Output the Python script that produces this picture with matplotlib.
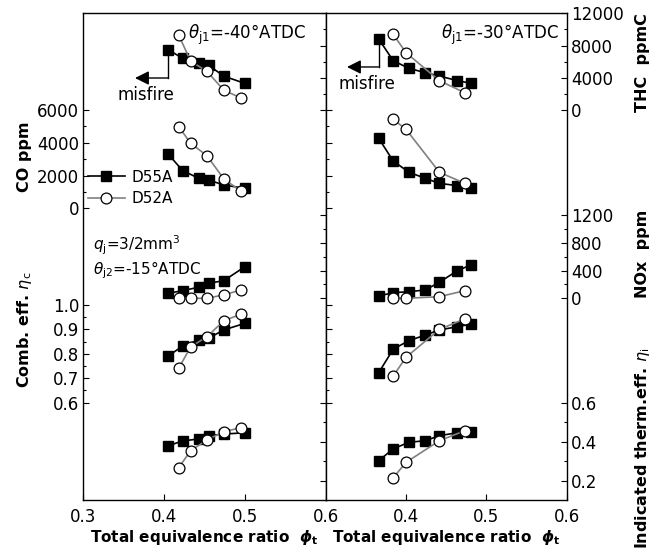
import matplotlib
matplotlib.use('Agg')
import matplotlib.pyplot as plt

plt.rcParams['font.family'] = ['DejaVu Sans']
plt.rcParams['mathtext.fontset'] = 'dejavusans'

# --- data ---
# left panel: theta_j1 = -40 deg ATDC
phi55_L = [0.405, 0.423, 0.443, 0.455, 0.474, 0.500]
phi52_L = [0.418, 0.433, 0.453, 0.474, 0.495]
thc55_L = [7500, 6400, 5850, 5550, 4200, 3300]
thc52_L = [9300, 6050, 4800, 2450, 1500]
co55_L = [3310, 2300, 1830, 1730, 1420, 1220]
co52_L = [4980, 3965, 3210, 1790, 1055]
nox55_L = [72, 110, 160, 215, 255, 455]
nox52_L = [0, 0, 0, 50, 120]
comb55_L = [0.791, 0.832, 0.857, 0.864, 0.898, 0.925]
comb52_L = [0.741, 0.829, 0.870, 0.936, 0.962]
therm55_L = [0.379, 0.404, 0.414, 0.431, 0.439, 0.446]
therm52_L = [0.267, 0.354, 0.409, 0.451, 0.472]

# right panel: theta_j1 = -30 deg ATDC
phi55_R = [0.366, 0.384, 0.4035, 0.424, 0.4415, 0.464, 0.481]
phi52_R = [0.384, 0.400, 0.4415, 0.473]
thc55_R = [8810, 6120, 5175, 4630, 4220, 3640, 3310]
thc52_R = [9390, 7110, 3640, 2150]
co55_R = [4270, 2890, 2200, 1830, 1525, 1380, 1260]
co52_R = [5430, 4820, 2200, 1525]
nox55_R = [33, 81, 95, 120, 231, 399, 481]
nox52_R = [0, 0, 23, 110]
comb55_R = [0.723, 0.819, 0.854, 0.877, 0.898, 0.911, 0.922]
comb52_R = [0.709, 0.786, 0.900, 0.943]
therm55_R = [0.303, 0.363, 0.397, 0.405, 0.431, 0.446, 0.451]
therm52_R = [0.215, 0.294, 0.405, 0.456]

# --- layout (pixels of a 658x550 image) ---
W, H = 658, 550
PX_TOP, PX_BOT = 13.3, 500.0


def px_lims(v0, p0, v1, p1):
    # y-limits so that value v0 sits at pixel row p0 and v1 at p1
    s = (p1 - p0) / (v1 - v0)
    return v0 + (PX_BOT - p0) / s, v0 + (PX_TOP - p0) / s


scales = {
    'co': dict(lim=px_lims(0, 208.3, 6000, 110.0), side='left',
               major=[0, 2000, 4000, 6000], minor=[1000, 3000, 5000], fmt='{:.0f}'),
    'comb': dict(lim=px_lims(0.6, 402.7, 1.0, 305.0), side='left',
                 major=[0.6, 0.7, 0.8, 0.9, 1.0], minor=[0.65, 0.75, 0.85, 0.95], fmt='{:.1f}'),
    'thc': dict(lim=px_lims(0, 110.0, 12000, 13.3), side='right',
                major=[0, 4000, 8000, 12000], minor=[2000, 6000, 10000], fmt='{:.0f}'),
    'nox': dict(lim=px_lims(0, 298.3, 1200, 215.0), side='right',
                major=[0, 400, 800, 1200], minor=[200, 600, 1000], fmt='{:.0f}'),
    'therm': dict(lim=px_lims(0.2, 480.7, 0.6, 402.7), side='right',
                  major=[0.2, 0.4, 0.6], minor=[0.3, 0.5], fmt='{:.1f}'),
}

panels = [
    dict(x=(83.3, 325.7), xticks=[0.3, 0.4, 0.5, 0.6], outer='left',
         phi55=phi55_L, phi52=phi52_L,
         series={'co': (co55_L, co52_L), 'comb': (comb55_L, comb52_L),
                 'thc': (thc55_L, thc52_L), 'nox': (nox55_L, nox52_L),
                 'therm': (therm55_L, therm52_L)},
         title=r'$\theta_{\rm j1}$=-40°ATDC', title_xy=(188, 34.5), title_ha='left',
         misfire=dict(yline=3970, xend=0.364, text=(0.3776, 1860))),
    dict(x=(325.7, 566.7), xticks=[0.4, 0.5, 0.6], outer='right',
         phi55=phi55_R, phi52=phi52_R,
         series={'co': (co55_R, co52_R), 'comb': (comb55_R, comb52_R),
                 'thc': (thc55_R, thc52_R), 'nox': (nox55_R, nox52_R),
                 'therm': (therm55_R, therm52_R)},
         title=r'$\theta_{\rm j1}$=-30°ATDC', title_xy=(559, 35), title_ha='right',
         misfire=dict(yline=5340, xend=0.3265, text=(0.3514, 3230))),
]

fig = plt.figure(figsize=(W / 100, H / 100), dpi=100)
TICK_FS = 12
handles = None

for p in panels:
    x0, x1 = p['x']
    rect = [x0 / W, 1 - PX_BOT / H, (x1 - x0) / W, (PX_BOT - PX_TOP) / H]
    base = fig.add_axes(rect)
    base.set_xlim(0.3, 0.6)
    base.set_xticks(p['xticks'], labels=[f'{t:.1f}' for t in p['xticks']])
    base.set_yticks([])
    base.tick_params(axis='x', direction='in', length=4, width=0.8, pad=6,
                     labelsize=TICK_FS)
    for sp in base.spines.values():
        sp.set_linewidth(1.0)
    base.set_xlabel(r'Total equivalence ratio  $\mathbfit{\phi}_\mathbf{t}$', fontsize=11,
                    fontweight='bold', labelpad=1)

    axs = {}
    for key, sc in scales.items():
        a = fig.add_axes(rect, sharex=base)
        a.patch.set_visible(False)
        for sp in a.spines.values():
            sp.set_visible(False)
        a.xaxis.set_visible(False)
        a.set_ylim(*sc['lim'])
        a.yaxis.set_ticks_position(sc['side'])
        a.set_yticks(sc['major'], labels=[sc['fmt'].format(v) for v in sc['major']])
        a.set_yticks(sc['minor'], minor=True)
        show = sc['side'] == p['outer']
        a.tick_params(axis='y', which='major', direction='in', length=4, width=0.8,
                      labelsize=TICK_FS, pad=3,
                      labelleft=show and sc['side'] == 'left',
                      labelright=show and sc['side'] == 'right')
        a.tick_params(axis='y', which='minor', direction='in', length=2, width=0.8)
        axs[key] = a

    for key, (y55, y52) in p['series'].items():
        a = axs[key]
        l55, = a.plot(p['phi55'], y55, '-s', color='k', mfc='k', mec='k', ms=7.2,
                      lw=1.2, zorder=3)
        l52, = a.plot(p['phi52'], y52, '-o', color='0.5', mfc='w', mec='k', ms=7.8,
                      mew=0.9, lw=1.2, zorder=4)
        if handles is None:
            handles = [l55, l52]

    # misfire marker off the first D55A point
    m = p['misfire']
    at = axs['thc']
    at.plot([p['phi55'][0]] * 2, [p['series']['thc'][0][0], m['yline']], color='k', lw=1.0)
    at.annotate('', xy=(m['xend'], m['yline']), xytext=(p['phi55'][0], m['yline']),
                arrowprops=dict(arrowstyle='-|>,head_length=0.6,head_width=0.3',
                                color='k', lw=1.0, mutation_scale=14,
                                shrinkA=0, shrinkB=0))
    at.text(m['text'][0], m['text'][1], 'misfire', fontsize=12, ha='center', va='center')

    fig.text(p['title_xy'][0] / W, 1 - p['title_xy'][1] / H, p['title'], fontsize=12,
             ha=p['title_ha'], va='center')

fig.legend(handles=handles, labels=['D55A', 'D52A'], loc='center left',
           bbox_to_anchor=(88 / W, 1 - 188 / H), frameon=False, fontsize=11,
           handlelength=2.4, handletextpad=0.45, borderpad=0, labelspacing=0.45,
           borderaxespad=0)

fig.text(93 / W, 1 - 245 / H, r'$q_{\rm j}$=3/2mm$^3$', fontsize=11, va='center')
fig.text(93 / W, 1 - 270 / H, r'$\theta_{\rm j2}$=-15°ATDC', fontsize=11, va='center')

# axis titles
fig.text(25 / W, 1 - 157 / H, 'CO ppm', rotation=90, fontsize=11.5, fontweight='bold',
         ha='center', va='center')
fig.text(25 / W, 1 - 330 / H, r'Comb. eff. $\eta_{\rm c}$', rotation=90, fontsize=11.5,
         fontweight='bold', ha='center', va='center')
fig.text(642 / W, 1 - 63 / H, 'THC  ppmC', rotation=90, fontsize=11.5, fontweight='bold',
         ha='center', va='center')
fig.text(643 / W, 1 - 254 / H, 'NOx  ppm', rotation=90, fontsize=11.5, fontweight='bold',
         ha='center', va='center')
fig.text(642 / W, 1 - 448 / H, r'Indicated therm.eff. $\eta_{\rm i}$', rotation=90,
         fontsize=11.5, fontweight='bold', ha='center', va='center')

fig.savefig('out.png', dpi=100)
